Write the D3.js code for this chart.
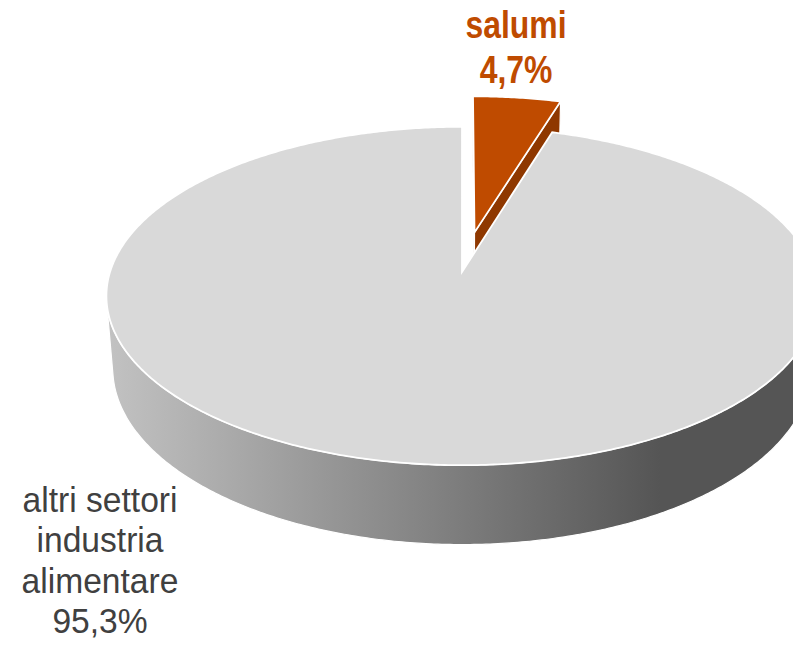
<!DOCTYPE html>
<html>
<head>
<meta charset="utf-8">
<script src="https://cdn.jsdelivr.net/npm/d3@7"></script>
<style>
  body { margin: 0; background: #fff; }
  svg { display: block; }
</style>
</head>
<body>
<svg id="viz" width="793" height="653"></svg>
<script>
// data
var categories = ["salumi", "altri settori industria alimentare"];
var values = [4.7, 95.3];
var labelLines = [["salumi", "4,7%"], ["altri settori", "industria", "alimentare", "95,3%"]];
var explode = [0.25, 0];

var topColors = ["#BF4B00", "#D9D9D9"];
var sideColors = ["#8F3800", "url(#sideGrad)"];

var width = 793, height = 653;
var cx = 462, cy = 272;     // screen position of pie centre
var k = 352;                // radius in px
var phi = 28.1 * Math.PI / 180;
var dist = 6.22;            // camera distance (in radii)
var thick = 0.235;

var sinP = Math.sin(phi), cosP = Math.cos(phi);

function proj(x, y, z) {
	var v = y * cosP - z * sinP;
	var w = y * sinP + z * cosP;
	var s = dist / (dist - w);
	return [cx + k * s * x, cy - k * s * v];
}

function rimPoint(a, y, off) {
	return proj(off[0] + Math.sin(a), y, off[1] - Math.cos(a));
}

function arcPts(a0, a1, y, off) {
	var n = Math.max(2, Math.ceil(Math.abs(a1 - a0) / 0.01));
	var pts = [];
	for (var i = 0; i <= n; i++) {
		pts.push(rimPoint(a0 + (a1 - a0) * i / n, y, off));
	}
	return pts;
}

var line = d3.line();

var svg = d3.select("#viz");
var defs = svg.append("defs");
var grad = defs.append("linearGradient")
	.attr("id", "sideGrad")
	.attr("gradientUnits", "userSpaceOnUse")
	.attr("x1", 108).attr("x2", 660).attr("y1", 0).attr("y2", 0);
grad.append("stop").attr("offset", 0).attr("stop-color", "#C2C2C2");
grad.append("stop").attr("offset", 1).attr("stop-color", "#555555");

var pie = d3.pie().sort(null).value(function(d) { return d; });
var arcs = pie(values);

// visible part of the outer wall
var thetaA = Math.acos(-1 / (dist * cosP));
var visLo = thetaA, visHi = 2 * Math.PI - thetaA;

var g = svg.append("g");

// draw back slice (salumi) first, main slice after
[0, 1].forEach(function(i) {
	var a = arcs[i];
	var mid = (a.startAngle + a.endAngle) / 2;
	var off = [explode[i] * Math.sin(mid), -explode[i] * Math.cos(mid)];
	var sg = g.append("g").attr("class", "slice");

	// outer wall
	var lo = Math.max(a.startAngle, visLo), hi = Math.min(a.endAngle, visHi);
	if (hi > lo) {
		var pts = arcPts(lo, hi, 0, off).concat(arcPts(hi, lo, -thick, off));
		sg.append("path")
			.attr("d", line(pts) + "Z")
			.attr("fill", sideColors[i])
			.attr("stroke", "#fff")
			.attr("stroke-width", 1.2);
	}

	// radial faces
	if (i === 0) {
		[a.startAngle, a.endAngle].forEach(function(ang) {
			var pts = [proj(off[0], 0, off[1]), rimPoint(ang, 0, off),
				rimPoint(ang, -thick, off), proj(off[0], -thick, off[1])];
			sg.append("path")
				.attr("d", line(pts) + "Z")
				.attr("fill", sideColors[i])
				.attr("stroke", "#fff")
				.attr("stroke-width", 1.2);
		});
	}

	// top face
	var topPts = [proj(off[0], 0, off[1])].concat(arcPts(a.startAngle, a.endAngle, 0, off));
	sg.append("path")
		.attr("d", line(topPts) + "Z")
		.attr("fill", topColors[i])
		.attr("stroke", "#fff")
		.attr("stroke-width", 1.8)
		.attr("stroke-linejoin", "miter");
});

// labels (narrow face emulated by horizontal squeeze)
var labelPos = [{ x: 516, y: 38, dy: 45, color: "#BF4B00", weight: "bold", size: 38, sx: 0.84 },
	{ x: 100, y: 512, dy: 40.4, color: "#404040", weight: "normal", size: 35, sx: 0.96 }];

labelLines.forEach(function(lines, i) {
	var p = labelPos[i];
	var t = svg.append("g")
		.attr("transform", "translate(" + p.x + "," + p.y + ") scale(" + p.sx + ",1)")
		.append("text")
		.attr("text-anchor", "middle")
		.attr("font-family", "'Liberation Sans', Arial, sans-serif")
		.attr("font-size", p.size)
		.attr("font-weight", p.weight)
		.attr("fill", p.color);
	lines.forEach(function(l, j) {
		t.append("tspan").attr("x", 0).attr("y", j * p.dy).text(l);
	});
});
</script>
</body>
</html>
